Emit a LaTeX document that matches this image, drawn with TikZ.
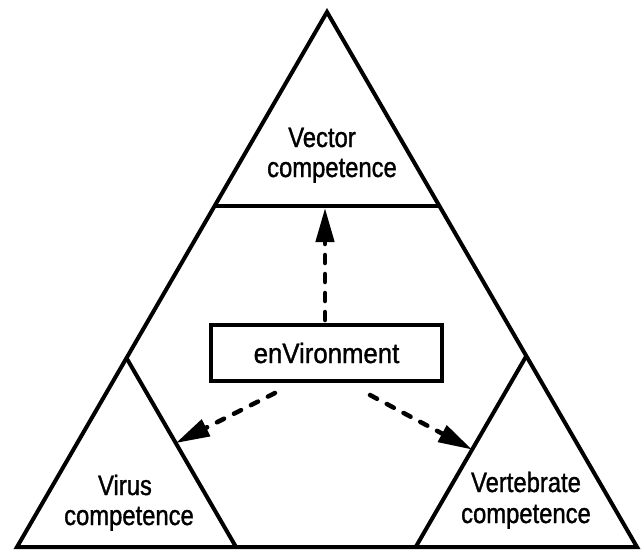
\documentclass[tikz,border=0pt]{standalone}
\usepackage{fontspec}
\setmainfont{Liberation Sans}[FakeStretch=0.85,FakeBold=1.2]
\newfontfamily\envfont{Liberation Sans}[FakeStretch=0.92,FakeBold=1.2]
\usetikzlibrary{arrows.meta,calc}
\begin{document}
\begin{tikzpicture}[x=1pt,y=-1pt,
  edge/.style={line width=4pt,line join=miter,line cap=butt},
  lbl/.style={anchor=base,inner sep=0pt,font=\fontsize{28}{30}\selectfont},
  envbox/.style={draw,line width=3.5pt,minimum width=231pt,minimum height=56pt,inner sep=0pt,font=\envfont\fontsize{28}{30}\selectfont},
  dasharrow/.style={line width=4.5pt,line cap=round,dash pattern=on 8pt off 11pt,
    -{Triangle[length=34pt,width=18pt,line cap=butt]}}
]
\useasboundingbox (0,0) rectangle (642,549);
% big triangle
\coordinate (A) at (327,12);
\coordinate (BL) at (17,547);
\coordinate (BR) at (637,547);
\draw[edge] (A) -- (BL) -- (BR) -- cycle;
% top cut
\coordinate (hl) at (214.6,206);
\coordinate (hr) at (439.4,206);
\draw[edge] (hl) -- (hr);
% left small triangle
\coordinate (la) at (126.5,358);
\coordinate (lb) at (236,547);
\draw[edge] (la) -- (lb);
% right small triangle
\coordinate (ra) at (526.3,356);
\coordinate (rb) at (415.7,547);
\draw[edge] (ra) -- (rb);
% environment box
\node[envbox] (env) at (326.5,353) {enVironment};
% arrow endpoints
\coordinate (upend) at (325,208);
\coordinate (ltip) at ($(la)!0.45!(lb)$);
\coordinate (rtip) at ($(ra)!0.49!(rb)$);
\coordinate (lstart) at (275,393);
\coordinate (rstart) at (370,395);
\coordinate (ustart) at (325,320);
\draw[dasharrow] (ustart) -- (upend);
\draw[dasharrow] (lstart) -- (ltip);
\draw[dasharrow] (rstart) -- (rtip);
% labels
\node[lbl] (t1) at (322,147) {Vector};
\node[lbl] (t2) at (332,177) {competence};
\node[lbl] (l1) at (125,495) {Virus};
\node[lbl] (l2) at (129,525) {competence};
\node[lbl] (r1) at (526,492) {Vertebrate};
\node[lbl] (r2) at (526,523) {competence};
\end{tikzpicture}
\end{document}
